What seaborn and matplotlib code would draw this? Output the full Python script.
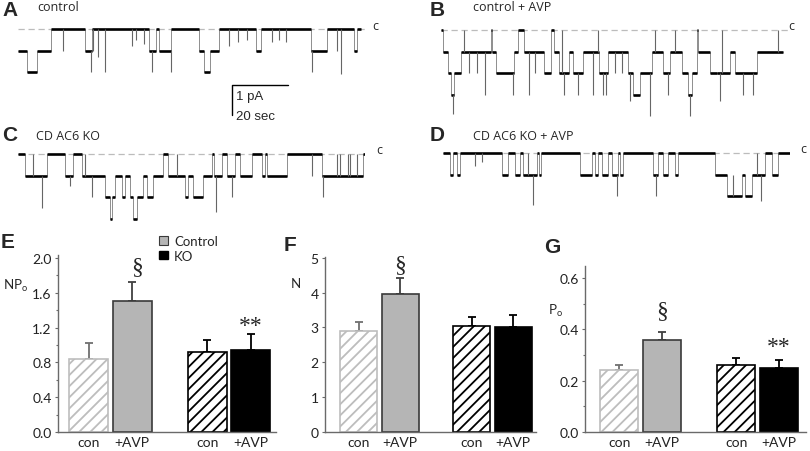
import numpy as np
import pandas as pd
import matplotlib
matplotlib.use("Agg")
import matplotlib.pyplot as plt
import seaborn as sns
from matplotlib.patches import Patch

# single channel recordings: segment start times (s) + number of open channels
a_edges = [0, 3.3, 6.9, 11.7, 23.9, 26.3, 46.8, 49.2, 50.4, 54.8, 64.6, 66.4, 68.5, 71.8,
           84.9, 86.7, 104.5, 110.5, 120, 121.2, 122.4]
a_levels = [1, 2, 1, 0, 1, 0, 1, 0, 1, 0, 1, 2, 1, 0, 1, 0, 1, 0, 1, 0]
a_spike_t = [16.2, 26.0, 26.9, 28.5, 31.0, 40.8, 42.0, 45.0, 48.0, 54.6, 75.4, 78.7, 81.9,
             90.8, 93.2, 95.6, 105.1, 114.0, 115.5]
a_spike_lv = [1.0, 2.0, 1.0, 1.3, 2.0, 0.8, 0.5, 0.7, 2.0, 2.0, 0.8, 0.6, 0.5,
              0.6, 0.5, 0.6, 2.0, 1.0, 2.1]

b_edges = [0, 0.7, 2.5, 3.6, 4.6, 7.1, 17.9, 18.2, 19.6, 26.1, 27.5, 29.6, 36.8, 39.3, 40.4,
           42.1, 45.7, 47.1, 50.7, 56.4, 59.6, 66.8, 68.6, 71.1, 75.4, 79.3, 81.8, 86.1, 88.2,
           89.6, 91.4, 91.8, 96.1, 98.6, 103.2, 105.0, 112.9, 122.1]
b_levels = [0, 1, 2, 3, 2, 1, 0, 1, 2, 1, 0, 1, 2, 0, 1, 2, 1, 2, 1, 2, 1, 2, 3, 2, 1, 2, 1,
            2, 3, 2, 0, 1, 2, 2, 1, 2, 1]
b_spike_t = [4.2, 8.2, 10.0, 13.0, 15.7, 25.8, 31.4, 33.5, 43.2, 44.0, 48.9, 54.3, 56.1, 57.9,
             58.9, 62.0, 64.5, 67.5, 74.6, 76.4, 81.0, 83.6, 88.8, 99.6, 100.5, 108.0, 111.4, 120.4]
b_spike_lv = [3.9, 0, 2, 2, 3, 3, 3, 2, 0, 3, 3, 3, 0, 3,
              3, 2, 2, 3.3, 4, 0, 3, 0, 4, 3.3, 0, 3, 3, 0]

c_edges = [0, 2.5, 10.4, 16.8, 19.6, 22.9, 31.1, 32.9, 33.6, 34.6, 37.1, 38.2, 40.0, 41.1, 42.5,
           44.6, 46.1, 48.2, 51.8, 53.6, 59.6, 60.7, 62.5, 66.1, 69.3, 70.0, 72.9, 74.6, 77.5,
           79.3, 83.6, 87.1, 88.2, 88.9, 96.1, 108.6, 123.2, 123.9]
c_levels = [0, 1, 0, 1, 0, 1, 2, 3, 2, 1, 2, 1, 2, 3, 2, 1, 2, 1, 0, 1, 2, 1, 2, 1, 0, 1, 0,
            1, 0, 1, 0, 1, 0, 1, 0, 1, 0]
c_spike_t = [5.4, 8.6, 18.6, 23.9, 26.4, 56.8, 70.7, 76.4, 105.0, 109.0, 113.9, 115.0, 117.9,
             118.6, 121.0]
c_spike_lv = [0, 2.5, 1.5, 0, 2, 0, 2.7, 2, 1, 2, 0, 0, 0, 0, 0]

d_edges = [0, 2.5, 3.6, 5.0, 6.1, 21.1, 23.2, 25.7, 27.5, 28.6, 33.6, 34.3, 35.0, 48.9, 53.2,
           54.3, 55.4, 56.8, 58.9, 60.4, 62.5, 63.2, 64.3, 75.0, 76.8, 78.6, 80.4, 82.9, 83.9,
           97.1, 101.4, 106.8, 107.9, 110.4, 115.0, 117.5, 119.6, 123.9]
d_levels = [0, 1, 0, 1, 0, 1, 0, 1, 0, 1, 0, 1, 0, 1, 0, 1, 0, 1, 0, 1, 0, 1, 0, 1, 0, 1, 0,
            1, 0, 1, 2, 1, 2, 1, 0, 1, 0]
d_spike_t = [11.4, 14.0, 30.5, 32.1, 62.0, 76.0, 103.5, 112.0, 113.5]
d_spike_lv = [0.6, 0.4, 0, 2.4, 2, 2, 1, 0, 2.2]

unit_pA = 0.72  # single channel current

# summary data (mean, SEM)
genotype = ["Control", "Control", "KO", "KO"]
treatment = ["con", "+AVP", "con", "+AVP"]
npo_mean = [0.84, 1.50, 0.92, 0.94]
npo_sem = [0.18, 0.22, 0.14, 0.19]
n_mean = [2.90, 3.97, 3.04, 3.00]
n_sem = [0.25, 0.45, 0.25, 0.37]
po_mean = [0.24, 0.36, 0.26, 0.25]
po_sem = [0.02, 0.03, 0.03, 0.03]

summary = pd.DataFrame({"genotype": genotype, "treatment": treatment,
                        "npo": npo_mean, "n": n_mean, "po": po_mean})

W, H = 810, 452
PX_PER_S = 2.8
PX_PER_PA = 30.0

sns.set_style("ticks")
plt.rcParams['font.family'] = ['Lato', 'DejaVu Sans']
plt.rcParams['hatch.linewidth'] = 1.3

fig = plt.figure(figsize=(8.1, 4.52), dpi=100)


def px_axes(l, t, r, b):
    return fig.add_axes([l / W, 1 - b / H, (r - l) / W, (b - t) / H])


def px_text(x, y, s, **kw):
    return fig.text(x / W, 1 - y / H, s, **kw)


def draw_trace(l, r, closed_px, edges, levels, sp_t, sp_lv):
    top, bot = closed_px - 14, closed_px + 95
    ax = px_axes(l, top, r, bot)
    ax.set_xlim(0, (r - l) / PX_PER_S)
    ax.set_ylim(-(bot - closed_px) / PX_PER_PA, (closed_px - top) / PX_PER_PA)
    ax.axis('off')
    edges = np.asarray(edges, float)
    y = -unit_pA * np.asarray(levels, float)
    ax.axhline(0, color='#bcbcbc', lw=0.9, ls=(0, (5, 3)), zorder=0)
    ax.stairs(y, edges, baseline=None, color='#8e8e8e', lw=0.7)
    ax.hlines(y, edges[:-1], edges[1:], color='black', lw=1.9)
    idx = np.searchsorted(edges, sp_t, side='right') - 1
    ax.vlines(sp_t, y[idx], -unit_pA * np.asarray(sp_lv, float), color='#666666', lw=0.8)
    return ax


ax_a = draw_trace(18, 365, 30, a_edges, a_levels, a_spike_t, a_spike_lv)
draw_trace(441, 788, 31, b_edges, b_levels, b_spike_t, b_spike_lv)
draw_trace(18, 365, 155, c_edges, c_levels, c_spike_t, c_spike_lv)
draw_trace(443, 790, 154, d_edges, d_levels, d_spike_t, d_spike_lv)

# scale bar (1 pA, 20 sec)
x0 = (232 - 18) / PX_PER_S
y0 = -(86 - 30) / PX_PER_PA
ax_a.plot([x0, x0, x0 + 20], [y0 - 1, y0, y0], color='black', lw=1.0, clip_on=False)
ax_a.text(x0 + 1.6, y0 - 0.36, "1 pA", fontsize=9.5, family='Liberation Sans', va='center')
ax_a.text(x0 + 1.6, y0 - 1.03, "20 sec", fontsize=9.5, family='Liberation Sans', va='center')

# trace titles and closed-level marks
title_kw = dict(fontsize=9, family=['Open Sans', 'DejaVu Sans'], va='baseline')
px_text(37, 11, "control", **title_kw)
px_text(473, 11, "control + AVP", **title_kw)
px_text(36, 140, "CD AC6 KO", **title_kw)
px_text(473, 140, "CD AC6 KO + AVP", **title_kw)
for cx, cy in [(372, 30), (788, 30), (376, 154), (800, 153)]:
    px_text(cx, cy, "c", **title_kw)

# panel letters
letter_kw = dict(fontsize=15, fontweight='bold', family='Liberation Sans', va='top')
for s, lx, ly in [("A", 2, 1), ("B", 430, 1), ("C", 2, 126), ("D", 430, 126),
                  ("E", 1, 233), ("F", 284, 236), ("G", 544, 238)]:
    px_text(lx, ly, s, **letter_kw)

face = ['white', '#b5b5b5', 'white', 'black']
edge = ['#bdbdbd', '#3a3a3a', 'black', 'black']
hatches = ['///', '', '///', '']
err_col = ['#707070', '#404040', 'black', 'black']


def bar_panel(rect, centers_px, col, sem, ymax, majors, minors, fmt):
    l, t, r, b = rect
    ax = px_axes(l, t, r, b)
    sns.barplot(data=summary, x="genotype", y=col, hue="treatment",
                order=["Control", "KO"], hue_order=["con", "+AVP"],
                width=0.73, gap=0.1, errorbar=None, legend=False, ax=ax)
    bars = sorted(ax.patches, key=lambda p: p.get_x())
    xs = []
    for i, p in enumerate(bars):
        p.set_facecolor(face[i])
        p.set_edgecolor(edge[i])
        p.set_hatch(hatches[i])
        p.set_linewidth(1.2)
        p.set_zorder(2)
        xc = p.get_x() + p.get_width() / 2
        xs.append(xc)
        ax.errorbar([xc], [p.get_height()], yerr=[[0], [sem[i]]], fmt='none',
                    ecolor=err_col[i], elinewidth=1.3, capsize=3, capthick=1.3, zorder=1)
    c1, c2 = centers_px
    u = c2 - c1
    ax.set_xlim((l - c1) / u, 1 + (r - c2) / u)
    ax.set_ylim(0, ymax)
    ax.set_yticks(majors)
    ax.set_yticks(minors, minor=True)
    ax.set_yticklabels([fmt.format(v) for v in majors])
    ax.set_xticks(xs)
    ax.set_xticklabels(treatment)
    ax.set_xlabel("")
    ax.set_ylabel("")
    sns.despine(ax=ax)
    for side in ['left', 'bottom']:
        ax.spines[side].set_color('#6a6a6a')
        ax.spines[side].set_linewidth(1.0)
    ax.tick_params(axis='x', length=0, pad=3, labelsize=10, labelcolor='#222222')
    ax.tick_params(axis='y', which='major', length=2.5, width=0.8, color='#6a6a6a',
                   pad=2, labelsize=10, labelcolor='#222222')
    ax.tick_params(axis='y', which='minor', length=1.5, width=0.8, color='#6a6a6a')
    return ax, xs


sym_kw = dict(family='Liberation Serif', ha='center', va='center')

ax_e, xe = bar_panel((58, 256, 276, 433), (110.5, 229), "npo", npo_sem, 2.034,
                     [0, 0.4, 0.8, 1.2, 1.6, 2.0], [0.2, 0.6, 1.0, 1.4, 1.8], "{:.1f}")
ax_e.text(xe[1] + 0.04, 1.9, "§", fontsize=17, **sym_kw)
ax_e.text(xe[3], 1.22, "**", fontsize=17, **sym_kw)
ax_e.legend(handles=[Patch(facecolor='#b5b5b5', edgecolor='#3a3a3a', lw=0.8),
                     Patch(facecolor='black', edgecolor='black')],
            labels=["Control", "KO"], frameon=False, fontsize=9.5,
            loc='upper left', bbox_to_anchor=(159 / W, 1 - 236 / H),
            bbox_transform=fig.transFigure, handlelength=0.65, handleheight=0.65,
            handletextpad=0.5, labelspacing=0.2, borderpad=0, borderaxespad=0)
px_text(3, 290, "NP$_\\mathregular{o}$", fontsize=9.5, va='baseline')

ax_f, xf = bar_panel((325, 258, 536, 433), (379.5, 492.5), "n", n_sem, 5.02,
                     [0, 1, 2, 3, 4, 5], [], "{:.0f}")
ax_f.text(xf[1], 4.8, "§", fontsize=17, **sym_kw)
px_text(291, 288, "N", fontsize=9.5, va='baseline')

ax_g, xg = bar_panel((585, 267, 806, 433), (640.5, 757.5), "po", po_sem, 0.647,
                     [0, 0.2, 0.4, 0.6], [0.1, 0.3, 0.5], "{:.1f}")
ax_g.text(xg[1], 0.475, "§", fontsize=17, **sym_kw)
ax_g.text(xg[3], 0.335, "**", fontsize=17, **sym_kw)
px_text(548, 315, "P$_\\mathregular{o}$", fontsize=9.5, va='baseline')

fig.savefig("out.png", dpi=100)
